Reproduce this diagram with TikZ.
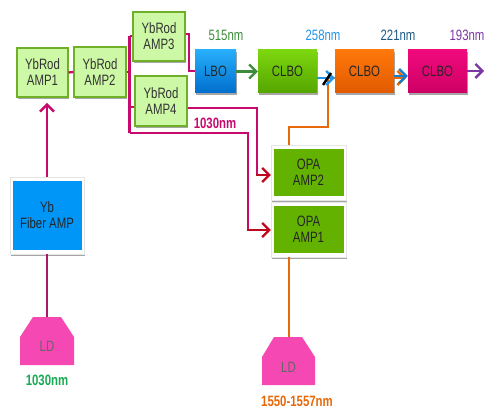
\documentclass[tikz,border=0pt]{standalone}
\usepackage{fontspec}
\setmainfont[FakeStretch=0.76]{Liberation Sans}
\usetikzlibrary{arrows.meta,shadows}
\definecolor{crim}{RGB}{200,10,110}
\definecolor{crimdark}{RGB}{170,25,100}
\definecolor{arrowred}{RGB}{190,10,30}
\definecolor{orng}{RGB}{232,105,10}
\definecolor{grn}{RGB}{60,140,60}
\definecolor{skyb}{RGB}{30,150,235}
\definecolor{midb}{RGB}{20,125,205}
\definecolor{purp}{RGB}{125,55,165}
\definecolor{ldpink}{RGB}{245,72,178}
\definecolor{opagreen}{RGB}{100,178,0}
\tikzset{
  softshadow/.style={drop shadow={shadow xshift=1.2pt,shadow yshift=-2pt,fill=black,opacity=.35}},
  lightbox/.style={draw={rgb,255:red,112;green,175;blue,40},line width=1.1pt,fill={rgb,255:red,205;green,248;blue,165},
    softshadow,align=center,font=\fontsize{15}{16}\selectfont,inner sep=0pt,text=black!80},
  glossy/.style={align=center,font=\fontsize{15}{16}\selectfont,inner sep=0pt,minimum width=59pt,minimum height=43pt,softshadow,text=black!85},
  framebox/.style={draw=black!10,line width=.4pt,fill=white,softshadow,inner sep=0pt},
  innerbox/.style={align=center,font=\fontsize{15}{16}\selectfont,inner sep=0pt,text=black!85},
  ldbox/.style={inner sep=0pt,font=\fontsize{15}{16}\selectfont,text=black!60},
  wire/.style={line width=2.3pt},
  tip/.style={-{Straight Barb[length=7pt,width=14pt,line width=2.3pt]}},
  wavelabel/.style={font=\fontsize{15}{16}\selectfont,inner sep=0pt},
  boldlabel/.style={font=\bfseries\fontsize{15}{16}\selectfont,inner sep=0pt}
}
\begin{document}
\begin{tikzpicture}[x=1pt,y=-1pt]
\useasboundingbox (0,0) rectangle (488,409);
\fill[white] (0,0) rectangle (488,409);

% LD outlines
\fill[ldpink] (20,365) -- (20,337) -- (33,317) -- (61,317) -- (74,337) -- (74,365) -- cycle;
\fill[ldpink] (262,385) -- (262,357) -- (274,337) -- (302,337) -- (315,357) -- (315,385) -- cycle;
\node[ldbox] (ldone) at (47,346) {LD};
\node[ldbox] (ldtwo) at (288.5,367) {LD};
\coordinate (ldonetop) at (47,317);
\coordinate (ldtwotop) at (289,337);

% Framed boxes
\node[framebox,minimum width=74pt,minimum height=77pt] (fiberframe) at (47,215.5) {};
\node[innerbox,fill={rgb,255:red,0;green,150;blue,248},minimum width=69pt,minimum height=69pt] (fiber) at (47,215.5) {Yb\\Fiber AMP};
\node[framebox,minimum width=75pt,minimum height=55pt] (opatwoframe) at (308.5,172.5) {};
\node[innerbox,fill=opagreen,minimum width=70pt,minimum height=47pt] (opatwo) at (308.5,172.5) {OPA\\AMP2};
\node[framebox,minimum width=75pt,minimum height=55pt] (opaoneframe) at (308.5,229.5) {};
\node[innerbox,fill=opagreen,minimum width=70pt,minimum height=47pt] (opaone) at (308.5,229.5) {OPA\\AMP1};

% Light green boxes
\node[lightbox,minimum width=51pt,minimum height=49pt] (ampone) at (42.5,72.5) {YbRod\\AMP1};
\node[lightbox,minimum width=52pt,minimum height=50pt] (amptwo) at (100,72) {YbRod\\AMP2};
\node[lightbox,minimum width=52pt,minimum height=49pt] (ampthree) at (159,36.5) {YbRod\\AMP3};
\node[lightbox,minimum width=52pt,minimum height=50pt] (ampfour) at (161,101) {YbRod\\AMP4};

% Glossy boxes
\node[glossy,minimum width=41pt,top color={rgb,255:red,40;green,175;blue,250},bottom color={rgb,255:red,0;green,110;blue,205}] (lbo) at (215.5,71.5) {LBO};
\node[glossy,top color={rgb,255:red,125;green,215;blue,15},bottom color={rgb,255:red,85;green,165;blue,0}] (clboa) at (287.5,71.5) {CLBO};
\node[glossy,top color={rgb,255:red,255;green,120;blue,10},bottom color={rgb,255:red,225;green,90;blue,0}] (clbob) at (364.5,71.5) {CLBO};
\node[glossy,top color={rgb,255:red,240;green,10;blue,125},bottom color={rgb,255:red,205;green,0;blue,100}] (clboc) at (437.5,71.5) {CLBO};

% Free coordinates
\coordinate (busjoin) at (129.5,72);
\coordinate (bustop) at (129.5,36);
\coordinate (busfour) at (129.5,107);
\coordinate (busbottom) at (129.5,133);
\coordinate (threeturn) at (189,34);
\coordinate (threedown) at (189,71);
\coordinate (fourturn) at (257,108);
\coordinate (bottomturn) at (248,133);
\coordinate (orangeup) at (289,127);
\coordinate (orangecorner) at (328,127);
\coordinate (orangemid) at (328,78);
\coordinate (fiberup) at (47,177);
\coordinate (fibertip) at (47,103);
\coordinate (outtip) at (484,71);
\coordinate (mirrora) at (323,85);
\coordinate (mirrorb) at (331,73);

% Crimson wires
\draw[wire,crim] (ampone.east) -- (amptwo.west);
\draw[wire,crim] (amptwo.east) -- (busjoin);
\draw[wire,crim] (bustop) -- (busbottom);
\draw[wire,crim] (bustop) -- (bustop -| ampthree.west);
\draw[wire,crim] (busfour) -- (busfour -| ampfour.west);
\draw[wire,crim,line join=miter] (threeturn -| ampthree.east) -- (threeturn) -- (threedown) -- (threedown -| lbo.west);
\draw[wire,crim,tip] (fiberup) -- (fibertip);
\draw[wire,crimdark] (fiberframe.south) -- (ldonetop);
\draw[wire,crim] (fourturn -| ampfour.east) -- (fourturn) -- (257,175);
\draw[wire,crim] (busbottom) -- (bottomturn) -- (248,230);
\draw[wire,arrowred,tip] (256,175) -- (opatwoframe.west |- 0,175);
\draw[wire,arrowred,tip] (247,230) -- (opaoneframe.west |- 0,230);

% Orange wires
\draw[wire,orng] (opaoneframe.south -| ldtwotop) -- (ldtwotop);
\draw[wire,orng] (orangeup |- opatwoframe.north) -- (orangeup) -- (orangecorner) -- (orangemid) -- (orangemid -| clbob.west);
\draw[wire,orng,tip] (clbob.east |- orangemid) -- (406,78);

% Beam arrows
\draw[wire,grn,tip] (lbo.east) -- (clboa.west);
\draw[wire,skyb,tip] ([yshift=-6.5pt]clboa.east) -- ([yshift=-6.5pt]clbob.west);
\draw[wire,midb,tip] ([yshift=-4.5pt]clbob.east) -- ([yshift=-4.5pt]clboc.west);
\draw[wire,purp,tip] (clboc.east |- outtip) -- (outtip);
\draw[line width=2.4pt,black] (mirrora) -- (mirrorb);

% Labels
\node[wavelabel,text=grn] (lfive) at (226,35) {515nm};
\node[wavelabel,text=skyb] (ltwofive) at (323,35) {258nm};
\node[wavelabel,text={rgb,255:red,30;green,90;blue,135}] (ltwotwo) at (398,35) {221nm};
\node[wavelabel,text=purp] (lone) at (467,35) {193nm};
\node[boldlabel,text=crim] (lthirty) at (215,123) {1030nm};
\node[boldlabel,text={rgb,255:red,25;green,170;blue,85}] (lgreen) at (47,380) {1030nm};
\node[boldlabel,text=orng] (lorange) at (297,401) {1550-1557nm};
\end{tikzpicture}
\end{document}
